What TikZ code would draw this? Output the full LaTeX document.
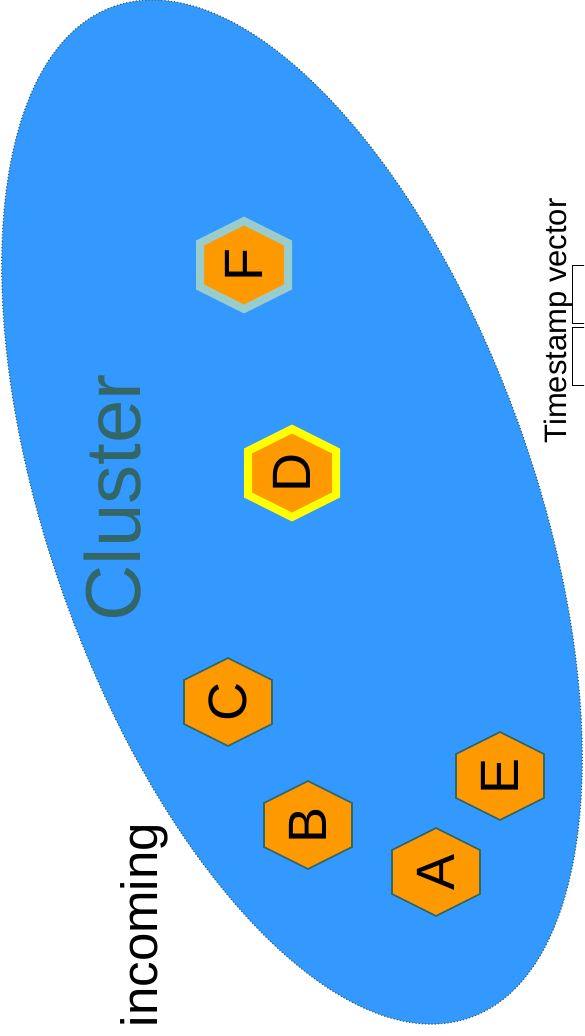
\documentclass[tikz,border=0pt]{standalone}
\usepackage{fontspec}
\setmainfont{Liberation Sans}
\definecolor{clusterblue}{HTML}{3399FF}
\definecolor{slate}{HTML}{336666}
\definecolor{hexorange}{HTML}{FF9900}
\definecolor{hexyellow}{HTML}{FFFF00}
\definecolor{hexmist}{HTML}{99CCCC}
\newcommand{\HexR}{44}
\newcommand{\HexS}{22}

\begin{document}
\begin{tikzpicture}[x=1pt,y=-1pt,
		cluster/.style={fill=clusterblue,draw=slate,line width=1.2pt,dotted},
		hexcell/.style={fill=hexorange,draw=slate,line width=1.6pt,line join=miter},
		member/.style={},
		leader/.style={draw=hexyellow,line width=8pt},
		follower/.style={draw=hexmist,line width=8pt},
		letter/.style={rotate=90,inner sep=0pt,font=\fontsize{54}{54}\selectfont},
		slot/.style={draw,line width=0.8pt,minimum width=50pt,minimum height=58pt,anchor=north west}]
				\useasboundingbox (0,0) rectangle (584,1036);
				\clip (0,0) rectangle (584,1036);

				% the cluster
				\coordinate (c) at (292,512);
				\draw[cluster,rotate around={109.4:(c)}] (c) ellipse [x radius=536, y radius=243];
				\node[rotate=90,anchor=base,text=slate,font=\fontsize{78}{78}\selectfont]
					(clusterlabel) at (140,498) {Cluster};
				\node[rotate=90,anchor=base,font=\fontsize{51}{51}\selectfont]
					(incoming) at (157,925) {incoming};

				% members
				\foreach \lbl/\x/\y/\rim in {A/436/872/member, B/308/825/member,
						C/228/702/member, D/292/473/leader, E/500/776/member, F/244/265/follower}{
					\draw[hexcell,\rim] (\x,\y) +(0,-\HexR) -- +(\HexR,-\HexS) -- +(\HexR,\HexS)
						-- +(0,\HexR) -- +(-\HexR,\HexS) -- +(-\HexR,-\HexS) -- cycle;
					\node[letter] (\lbl) at (\x,\y) {\lbl};
				}

				% timestamps
				\node[rotate=90,anchor=base,font=\fontsize{31}{31}\selectfont]
					(tslabel) at (566,321) {Timestamp vector};
				\node[slot] (slot1) at (572,265) {};
				\node[slot] (slot2) at (572,327) {};
			\end{tikzpicture}
\end{document}
